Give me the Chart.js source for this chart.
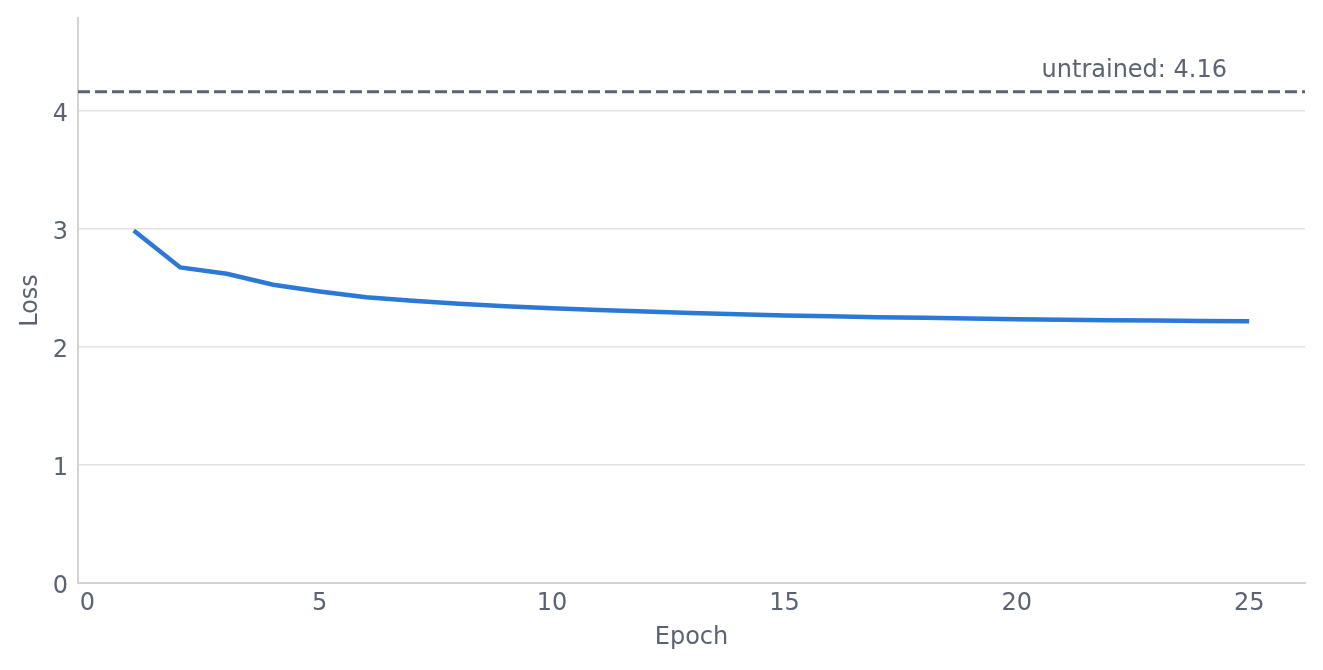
<!DOCTYPE html>
<html>
<head>
<meta charset="utf-8">
<script src="https://cdn.jsdelivr.net/npm/chart.js@4"></script>
<style>
  html, body { margin: 0; padding: 0; background: #fff; }
  #wrap { width: 1323px; height: 670px; }
</style>
</head>
<body>
<div id="wrap"><canvas id="lossChart"></canvas></div>
<script>
// loss per epoch
var epochs = [1, 2, 3, 4, 5, 6, 7, 8, 9, 10, 11, 12, 13, 14, 15, 16, 17, 18, 19, 20, 21, 22, 23, 24, 25];
var lossValues = [2.985, 2.672, 2.619, 2.525, 2.469, 2.42, 2.39, 2.364, 2.343, 2.326, 2.311, 2.298, 2.286, 2.275, 2.266, 2.258, 2.251, 2.245, 2.239, 2.234, 2.229, 2.225, 2.222, 2.219, 2.216];
var untrainedLoss = 4.16;
var untrainedLabel = 'untrained: ' + untrainedLoss.toFixed(2);
var xTicks = [0, 5, 10, 15, 20, 25];
var yTicks = [0, 1, 2, 3, 4];

var textColor = '#5b6371';
var fontFamily = '"DejaVu Sans", sans-serif';
var fontSize = 24;

var points = epochs.map(function (e, i) { return { x: e, y: lossValues[i] }; });

// dashed reference line + its label, drawn through the scales
var untrainedPlugin = {
    id: 'untrained',
    afterDatasetsDraw: function (chart) {
        var ctx = chart.ctx;
        var area = chart.chartArea;
        var y = chart.scales.y.getPixelForValue(untrainedLoss);
        ctx.save();
        ctx.strokeStyle = textColor;
        ctx.lineWidth = 3;
        ctx.setLineDash([12, 5]);
        ctx.beginPath();
        ctx.moveTo(area.left, y);
        ctx.lineTo(area.right, y);
        ctx.stroke();
        ctx.setLineDash([]);
        ctx.fillStyle = textColor;
        ctx.font = fontSize + 'px ' + fontFamily;
        ctx.textAlign = 'right';
        ctx.textBaseline = 'alphabetic';
        ctx.fillText(untrainedLabel, area.right - 78, y - 15);
        ctx.restore();
    }
};

var ctx = document.getElementById('lossChart').getContext('2d');
var chart = new Chart(ctx, {
    type: 'line',
    data: {
        datasets: [{
            label: 'Loss',
            data: points,
            borderColor: '#2b78d6',
            backgroundColor: '#2b78d6',
            borderWidth: 4.5,
            pointRadius: 0,
            fill: false,
            tension: 0
        }]
    },
    options: {
        responsive: true,
        maintainAspectRatio: false,
        animation: false,
        layout: { padding: { top: 18, right: 18, left: 0, bottom: 0 } },
        plugins: {
            legend: { display: false },
            tooltip: { enabled: false }
        },
        scales: {
            x: {
                type: 'linear',
                min: -0.2,
                max: 26.2,
                ticks: {
                    color: textColor,
                    font: { family: fontFamily, size: fontSize },
                    padding: 6,
                    maxRotation: 0
                },
                afterBuildTicks: function (axis) {
                    axis.ticks = xTicks.map(function (v) { return { value: v }; });
                },
                grid: { display: false, drawTicks: false },
                border: { display: true, color: '#d3d3cf', width: 2 },
                title: {
                    display: true,
                    text: 'Epoch',
                    color: textColor,
                    font: { family: fontFamily, size: fontSize },
                    padding: { top: 8, bottom: 18 }
                },
                afterFit: function (axis) {
                    axis.height = 87;
                    axis.paddingLeft = 0;
                    axis.paddingRight = 0;
                }
            },
            y: {
                min: 0,
                max: untrainedLoss * 1.15,
                ticks: {
                    color: textColor,
                    font: { family: fontFamily, size: fontSize, lineHeight: '8px' },
                    padding: 10,
                    // empty first line nudges the digit down onto its gridline
                    callback: function (v) { return ['', String(v)]; }
                },
                afterBuildTicks: function (axis) {
                    axis.ticks = yTicks.map(function (v) { return { value: v }; });
                },
                grid: {
                    color: function (c) { return c.tick && c.tick.value === 0 ? 'rgba(0,0,0,0)' : '#e2e2de'; },
                    lineWidth: 1.5,
                    drawTicks: false
                },
                border: { display: true, color: '#d3d3cf', width: 2 },
                title: {
                    display: true,
                    text: 'Loss',
                    color: textColor,
                    font: { family: fontFamily, size: fontSize },
                    padding: { top: 16, bottom: 4 }
                },
                afterFit: function (axis) {
                    axis.width = 78;
                    axis.paddingTop = 0;
                    axis.paddingBottom = 0;
                }
            }
        }
    },
    plugins: [untrainedPlugin]
});
</script>
</body>
</html>
